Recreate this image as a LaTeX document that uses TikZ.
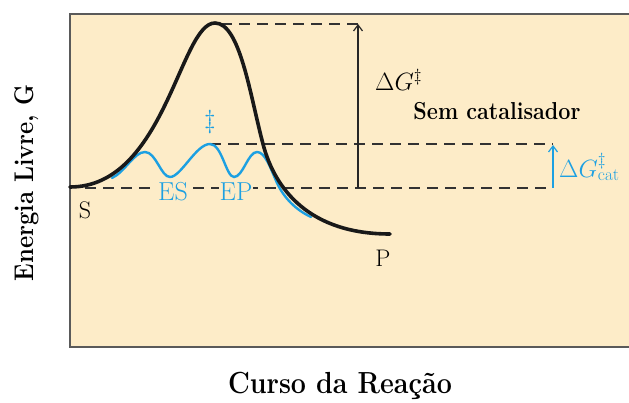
\RequirePackage{fix-cm}
\documentclass[tikz,border=0pt]{standalone}
\usetikzlibrary{arrows.meta}
\usepackage{graphicx}
\definecolor{bgc}{RGB}{253,236,200}
\definecolor{bluec}{RGB}{28,160,226}
\definecolor{dashc}{RGB}{50,50,50}
\definecolor{framec}{RGB}{90,90,90}
\newcommand{\cnd}[1]{\scalebox{0.88}[1]{#1}}
\tikzset{
  curve/.style={line width=3.6pt, black!90, line cap=round},
  bcurve/.style={line width=2.4pt, bluec, line cap=round},
  dashline/.style={dashc, line width=1.4pt, dash pattern=on 11pt off 7pt},
  lbl/.style={inner sep=0pt, font=\fontsize{24}{26}\selectfont},
  blbl/.style={lbl, text=bluec},
  uparrow/.style={-{Straight Barb[length=6pt,width=9pt,line width=1.2pt]}, line width=1.2pt},
}
\begin{document}
\begin{tikzpicture}[x=1pt,y=-1pt]
\useasboundingbox (0,0) rectangle (629,403);
% background box
\fill[bgc] (70,14) rectangle (629,347);
\draw[framec, line width=1.3pt] (629,14) -- (70,14) -- (70,347) -- (629,347);

% key coordinates
\coordinate (S0) at (70,188);
\coordinate (pk) at (215,23);
\coordinate (cpk) at (210,144);
\coordinate (topend) at (358,24);
\coordinate (midend) at (553,144);
\coordinate (lowend) at (553,188);
\coordinate (abase) at (358,188);
\coordinate (bbase) at (553,188);
\coordinate (btop) at (553,145);

% dashed guide lines
\draw[dashline] (pk) ++(6,1) -- (topend);
\draw[dashline] (cpk) -- (midend);
\draw[dashline] (S0) ++(15,0) -- (lowend);

% arrows
\draw[uparrow, black!85] (abase) -- (topend);
\draw[uparrow, bluec] (bbase) -- (btop);

% labels ES, EP (cover dashes)
\node[blbl, fill=bgc, inner sep=1pt, font=\fontsize{26}{28}\selectfont] (ES) at (173,192) {ES};
\node[blbl, fill=bgc, inner sep=1pt, font=\fontsize{26}{28}\selectfont] (EP) at (236,192) {EP};

% catalysed curve
\draw[bcurve] (112,178) .. controls (125,172) and (134,152) .. (145,152)
  .. controls (156,152) and (161,177) .. (170,177)
  .. controls (181,177) and (196,144) .. (210,144)
  .. controls (222,144) and (226,177) .. (234,177)
  .. controls (243,177) and (248,152) .. (257,152)
  .. controls (265,152) and (270,167) .. (277,183)
  .. controls (284,198) and (296,210) .. (311,217);

% uncatalysed curve
\draw[curve] (70,187) .. controls (165,187) and (180,23) .. (pk)
  .. controls (240,23) and (250,95) .. (263,144)
  .. controls (275,190) and (310,234) .. (390,234);

% labels
\node[lbl] (S) at (85,210) {S};
\node[lbl] (P) at (383,258) {P};
\node[blbl, font=\fontsize{26}{28}\selectfont] (dd) at (210,122) {$\ddagger$};
\node[lbl, anchor=west, font=\fontsize{25}{27}\selectfont] (dG) at (375,80) {$\Delta G^{\ddagger}$};
\node[font=\bfseries\fontsize{24.5}{26}\selectfont, inner sep=0pt] (sem) at (497,111) {\cnd{Sem catalisador}};
\node[blbl, anchor=west, font=\fontsize{25}{27}\selectfont] (dGc) at (559,167) {$\Delta G^{\ddagger}_{\mathrm{cat}}$};

% axis labels
\node[rotate=90, font=\bfseries\fontsize{27}{29}\selectfont, inner sep=0pt] (ylab) at (27,183) {\cnd{Energia Livre, G}};
\node[font=\bfseries\fontsize{30.5}{32}\selectfont, inner sep=0pt] (xlab) at (340,386) {\cnd{Curso da Reação}};
\end{tikzpicture}
\end{document}
